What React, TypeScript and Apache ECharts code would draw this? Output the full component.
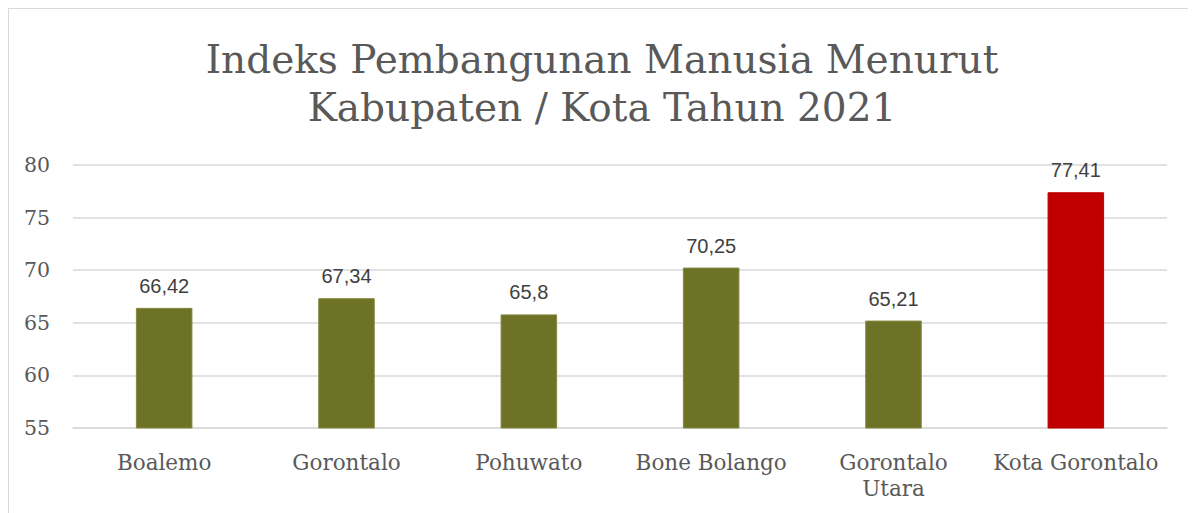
import React, { useEffect, useRef } from "react";
import * as echarts from "echarts";

const titleLines = ["Indeks Pembangunan Manusia Menurut", "Kabupaten / Kota Tahun 2021"];
const categories = ["Boalemo", "Gorontalo", "Pohuwato", "Bone Bolango", "Gorontalo Utara", "Kota Gorontalo"];
const values = [66.42, 67.34, 65.8, 70.25, 65.21, 77.41];
const highlight = [false, false, false, false, false, true];
const yTicks = { min: 55, max: 80, interval: 5 };

const OLIVE = "#6E7226";
const RED = "#C00000";

export default function App() {
  const ref = useRef<HTMLDivElement>(null);
  useEffect(() => {
    if (!ref.current) return;
    const chart = echarts.init(ref.current, null, { renderer: "svg" });
    chart.setOption({
      animation: false,
      backgroundColor: "#ffffff",
      title: {
        text: titleLines.join("\n"),
        left: "center",
        top: 21,
        textStyle: {
          fontFamily: "DejaVu Serif",
          fontSize: 39,
          fontWeight: "normal",
          color: "#595959",
          lineHeight: 48,
        },
      },
      grid: { left: 64, right: 28, top: 156, bottom: 85, containLabel: false },
      xAxis: {
        type: "category",
        data: categories,
        axisLine: { show: true, lineStyle: { color: "#d9d9d9", width: 1.5 } },
        axisTick: { show: false },
        axisLabel: {
          fontFamily: "DejaVu Serif",
          fontSize: 21.5,
          color: "#595959",
          lineHeight: 26,
          margin: 21,
          interval: 0,
          formatter: (v: string) => (v === "Gorontalo Utara" ? "Gorontalo\nUtara" : v),
        },
      },
      yAxis: {
        type: "value",
        min: yTicks.min,
        max: yTicks.max,
        interval: yTicks.interval,
        axisLine: { show: false },
        axisTick: { show: false },
        splitLine: { lineStyle: { color: "#d9d9d9", width: 1.5 } },
        axisLabel: {
          fontFamily: "DejaVu Serif",
          fontSize: 20.5,
          color: "#595959",
          margin: 23,
        },
      },
      series: [
        {
          type: "bar",
          barWidth: "31%",
          data: values.map((v, i) => ({
            value: v,
            itemStyle: {
              color: highlight[i] ? RED : OLIVE,
              borderColor: highlight[i] ? RED : "#858842",
              borderWidth: 1,
            },
          })),
          label: {
            show: true,
            position: "top",
            distance: 12,
            fontFamily: "'Liberation Sans Narrow', 'Liberation Sans', Arial, sans-serif",
            fontSize: 20,
            color: "#404040",
            formatter: (p: any) => String(p.value).replace(".", ","),
          },
        },
      ],
    });
    return () => chart.dispose();
  }, []);

  return (
    <div
      style={{
        width: 1188,
        height: 505,
        boxSizing: "border-box",
        borderTop: "1px solid #d9d9d9",
        borderLeft: "1px solid #d9d9d9",
        borderRight: "1px solid #d9d9d9",
        background: "#fff",
      }}
    >
      <div ref={ref} style={{ width: 1186, height: 504 }} />
    </div>
  );
}
